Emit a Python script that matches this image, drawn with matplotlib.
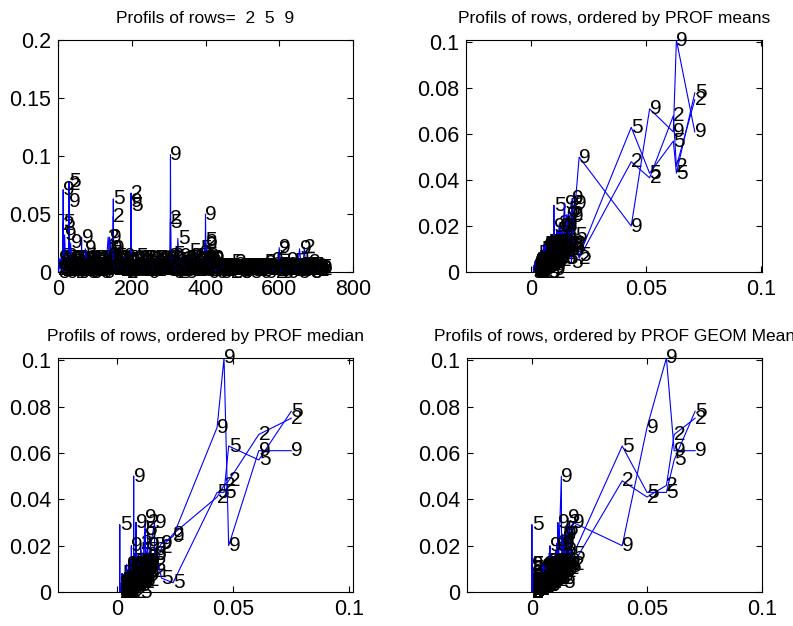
import numpy as np
import matplotlib
matplotlib.use('Agg')
import matplotlib.pyplot as plt
from matplotlib.ticker import FormatStrFormatter

# row numbers that are profiled
rows = [2, 5, 9]

# column index of each profile value
col_idx = [1, 3, 6, 9, 12, 13, 14, 15, 18, 21, 25, 29, 30, 31, 34, 38, 43, 48, 53, 58,
           63, 64, 65, 70, 74, 78, 84, 90, 96, 102, 108, 114, 120, 126, 132, 136, 140, 144, 149, 150,
           151, 156, 162, 168, 174, 180, 186, 192, 197, 198, 199, 205, 212, 220, 228, 236, 244, 252, 260, 268,
           276, 284, 292, 300, 304, 305, 306, 312, 318, 325, 332, 340, 348, 355, 362, 370, 378, 385, 392, 398,
           399, 400, 401, 406, 412, 420, 430, 440, 450, 460, 470, 480, 490, 500, 510, 520, 530, 540, 550, 560,
           570, 580, 590, 598, 600, 602, 610, 620, 630, 640, 650, 655, 660, 668, 672, 680, 690, 700, 712]

prof_2 = [0.002, 0.004, 0.011, 0.003, 0.006, 0.001, 0.041, 0.002, 0.010, 0.013, 0.004, 0.002, 0.075, 0.003, 0.012, 0.005, 0.009, 0.000, 0.010, 0.002,
          0.004, 0.008, 0.002, 0.011, 0.005, 0.010, 0.003, 0.012, 0.006, 0.010, 0.004, 0.011, 0.007, 0.003, 0.012, 0.030, 0.012, 0.013, 0.003, 0.048,
          0.002, 0.010, 0.004, 0.012, 0.006, 0.011, 0.000, 0.009, 0.002, 0.068, 0.003, 0.012, 0.006, 0.011, 0.004, 0.012, 0.007, 0.010, 0.003, 0.012,
          0.005, 0.011, 0.008, 0.012, 0.002, 0.046, 0.003, 0.013, 0.010, 0.000, 0.006, 0.011, 0.004, 0.010, 0.012, 0.007, 0.011, 0.009, 0.004, 0.010,
          0.003, 0.006, 0.025, 0.012, 0.005, 0.010, 0.003, 0.004, 0.002, 0.005, 0.000, 0.008, 0.004, 0.002, 0.005, 0.003, 0.004, 0.002, 0.005, 0.003,
          0.004, 0.006, 0.000, 0.005, 0.019, 0.004, 0.003, 0.006, 0.002, 0.005, 0.003, 0.006, 0.002, 0.021, 0.004, 0.008, 0.003, 0.005, 0.002]

prof_5 = [0.000, 0.003, 0.007, 0.013, 0.002, 0.002, 0.043, 0.001, 0.012, 0.008, 0.006, 0.001, 0.078, 0.002, 0.010, 0.011, 0.004, 0.012, 0.006, 0.004,
          0.003, 0.006, 0.003, 0.009, 0.013, 0.000, 0.011, 0.008, 0.002, 0.012, 0.006, 0.003, 0.010, 0.005, 0.018, 0.011, 0.016, 0.009, 0.002, 0.063,
          0.004, 0.013, 0.011, 0.003, 0.010, 0.007, 0.012, 0.004, 0.003, 0.057, 0.002, 0.010, 0.013, 0.005, 0.012, 0.008, 0.011, 0.004, 0.012, 0.009,
          0.011, 0.006, 0.012, 0.010, 0.003, 0.043, 0.002, 0.015, 0.006, 0.029, 0.010, 0.004, 0.012, 0.018, 0.008, 0.011, 0.013, 0.020, 0.012, 0.027,
          0.002, 0.007, 0.004, 0.010, 0.011, 0.004, 0.005, 0.000, 0.004, 0.003, 0.008, 0.004, 0.002, 0.005, 0.003, 0.000, 0.002, 0.005, 0.003, 0.008,
          0.002, 0.004, 0.010, 0.003, 0.006, 0.002, 0.005, 0.003, 0.004, 0.009, 0.000, 0.004, 0.005, 0.010, 0.003, 0.004, 0.006, 0.002, 0.004]

prof_9 = [0.003, 0.012, 0.003, 0.006, 0.010, 0.001, 0.071, 0.004, 0.032, 0.004, 0.000, 0.003, 0.061, 0.001, 0.025, 0.008, 0.012, 0.005, 0.003, 0.011,
          0.002, 0.030, 0.001, 0.006, 0.020, 0.012, 0.007, 0.010, 0.004, 0.009, 0.011, 0.005, 0.012, 0.000, 0.010, 0.013, 0.030, 0.020, 0.004, 0.020,
          0.003, 0.006, 0.012, 0.009, 0.004, 0.013, 0.008, 0.010, 0.001, 0.061, 0.004, 0.011, 0.004, 0.012, 0.009, 0.003, 0.012, 0.011, 0.007, 0.010,
          0.012, 0.004, 0.011, 0.013, 0.004, 0.101, 0.001, 0.012, 0.011, 0.001, 0.013, 0.008, 0.011, 0.006, 0.013, 0.004, 0.010, 0.016, 0.011, 0.012,
          0.004, 0.050, 0.024, 0.013, 0.009, 0.012, 0.000, 0.005, 0.003, 0.004, 0.002, 0.006, 0.005, 0.000, 0.004, 0.002, 0.005, 0.003, 0.000, 0.007,
          0.005, 0.010, 0.004, 0.006, 0.021, 0.003, 0.000, 0.010, 0.003, 0.004, 0.005, 0.020, 0.003, 0.006, 0.002, 0.006, 0.000, 0.004, 0.003]

# the many near-zero columns that make up the black band along the bottom
low_idx = [40, 46, 51, 56, 61, 68, 72, 81, 87, 93, 99, 105, 111, 117, 123, 129, 159, 165, 171, 177,
           183, 189, 195, 202, 209, 216, 224, 232, 240, 248, 256, 264, 272, 280, 288, 296, 315, 322, 329, 336,
           344, 352, 358, 366, 374, 382, 389, 395, 409, 416, 425, 435, 445, 455, 465, 475, 485, 495, 505, 515,
           525, 535, 545, 555, 565, 575, 585, 595, 606, 615, 625, 635, 645, 664, 676, 685, 695, 706]
low_2 = [0.002, 0.003, 0.001, 0.004, 0.002, 0.003, 0.001, 0.004, 0.002, 0.005, 0.003, 0.001, 0.004, 0.002, 0.003, 0.005, 0.002, 0.004, 0.001, 0.003,
         0.002, 0.004, 0.001, 0.003, 0.005, 0.002, 0.004, 0.001, 0.003, 0.002, 0.004, 0.001, 0.003, 0.005, 0.002, 0.004, 0.003, 0.001, 0.004, 0.002,
         0.003, 0.005, 0.002, 0.004, 0.001, 0.003, 0.002, 0.004, 0.003, 0.001, 0.002, 0.004, 0.001, 0.003, 0.005, 0.002, 0.004, 0.001, 0.003, 0.005,
         0.002, 0.004, 0.001, 0.003, 0.005, 0.002, 0.004, 0.001, 0.003, 0.005, 0.002, 0.004, 0.001, 0.003, 0.005, 0.002, 0.004, 0.001]
low_5 = [0.004, 0.001, 0.003, 0.002, 0.005, 0.002, 0.004, 0.003, 0.000, 0.002, 0.004, 0.003, 0.001, 0.004, 0.002, 0.003, 0.004, 0.001, 0.003, 0.005,
         0.002, 0.003, 0.004, 0.001, 0.003, 0.004, 0.002, 0.005, 0.003, 0.001, 0.004, 0.002, 0.004, 0.002, 0.003, 0.001, 0.004, 0.002, 0.005, 0.003,
         0.000, 0.004, 0.001, 0.003, 0.004, 0.002, 0.005, 0.001, 0.004, 0.002, 0.004, 0.001, 0.003, 0.005, 0.002, 0.004, 0.003, 0.000, 0.004, 0.002,
         0.005, 0.001, 0.003, 0.004, 0.002, 0.004, 0.001, 0.003, 0.005, 0.002, 0.004, 0.001, 0.003, 0.004, 0.002, 0.000, 0.003, 0.004]
low_9 = [0.001, 0.004, 0.002, 0.000, 0.003, 0.004, 0.002, 0.001, 0.003, 0.004, 0.002, 0.005, 0.003, 0.000, 0.004, 0.002, 0.003, 0.005, 0.002, 0.004,
         0.001, 0.000, 0.003, 0.002, 0.004, 0.001, 0.003, 0.002, 0.004, 0.000, 0.002, 0.005, 0.001, 0.003, 0.004, 0.002, 0.000, 0.003, 0.002, 0.004,
         0.001, 0.003, 0.004, 0.002, 0.005, 0.001, 0.003, 0.002, 0.000, 0.004, 0.003, 0.002, 0.005, 0.001, 0.003, 0.000, 0.002, 0.004, 0.002, 0.003,
         0.001, 0.004, 0.002, 0.005, 0.000, 0.003, 0.002, 0.004, 0.001, 0.003, 0.000, 0.005, 0.002, 0.001, 0.003, 0.004, 0.002, 0.003]

titles = ['Profils of rows=  2  5  9',
          'Profils of rows, ordered by PROF means',
          'Profils of rows, ordered by PROF median',
          'Profils of rows, ordered by PROF GEOM Mean']

# put all columns together in index order
idx = np.array(col_idx + low_idx)
prof = np.array([prof_2 + low_2, prof_5 + low_5, prof_9 + low_9])
by_idx = np.argsort(idx, kind='stable')
idx = idx[by_idx]
prof = prof[:, by_idx]

col_mean = prof.mean(axis=0)
col_median = np.median(prof, axis=0)
col_geom = np.prod(prof, axis=0) ** (1.0 / 3.0)

plt.rcParams['font.family'] = ['Liberation Sans', 'DejaVu Sans']

W, H = 793, 626
fig = plt.figure(figsize=(W / 100, H / 100), dpi=100)

# axes boxes in pixels: left, top, right, bottom
boxes = [(58, 40, 353, 272), (466, 40, 762, 272),
         (58, 358, 353, 592), (467, 358, 762, 592)]


def make_axes(box):
    l, t, r, b = box
    ax = fig.add_axes([l / W, 1 - b / H, (r - l) / W, (b - t) / H])
    ax.tick_params(direction='in', top=True, right=True, length=4, width=0.8,
                   labelsize=15.5, pad=5)
    for s in ax.spines.values():
        s.set_linewidth(0.8)
    return ax


def draw_row(ax, xs, ys, r, k):
    ax.plot(xs, ys, color='#0000ff', lw=0.8, zorder=2 + 2 * k)
    for x, y in zip(xs, ys):
        ax.text(x, y, str(r), fontsize=15, ha='left', va='center', zorder=3 + 2 * k)


# first panel: raw profiles against column index
ax = make_axes(boxes[0])
for k, r in enumerate(rows):
    draw_row(ax, idx, prof[k], r, k)
ax.set_xlim(0, 800)
ax.set_ylim(0, 0.2)
ax.set_xticks([0, 200, 400, 600, 800])
ax.set_yticks([0, 0.05, 0.1, 0.15, 0.2])
ax.yaxis.set_major_formatter(FormatStrFormatter('%g'))
ax.set_title(titles[0], fontsize=12.5, pad=12)

# other panels: profiles ordered by a column statistic, equal axis scaling
for box, stat, title in zip(boxes[1:], [col_mean, col_median, col_geom], titles[1:]):
    ax = make_axes(box)
    order = np.argsort(stat, kind='stable')
    for k, r in enumerate(rows):
        draw_row(ax, stat[order], prof[k][order], r, k)
    ymax = prof.max()
    l, t, rr, b = box
    span = ymax * (rr - l) / (b - t)
    mid = (stat.min() + stat.max()) / 2
    ax.set_xlim(mid - span / 2, mid + span / 2)
    ax.set_ylim(0, ymax)
    ax.set_xticks([0, 0.05, 0.1])
    ax.set_yticks([0, 0.02, 0.04, 0.06, 0.08, 0.1])
    ax.xaxis.set_major_formatter(FormatStrFormatter('%g'))
    ax.yaxis.set_major_formatter(FormatStrFormatter('%g'))
    ax.set_title(title, fontsize=12.5, pad=12)

fig.savefig('out.png', dpi=100)
